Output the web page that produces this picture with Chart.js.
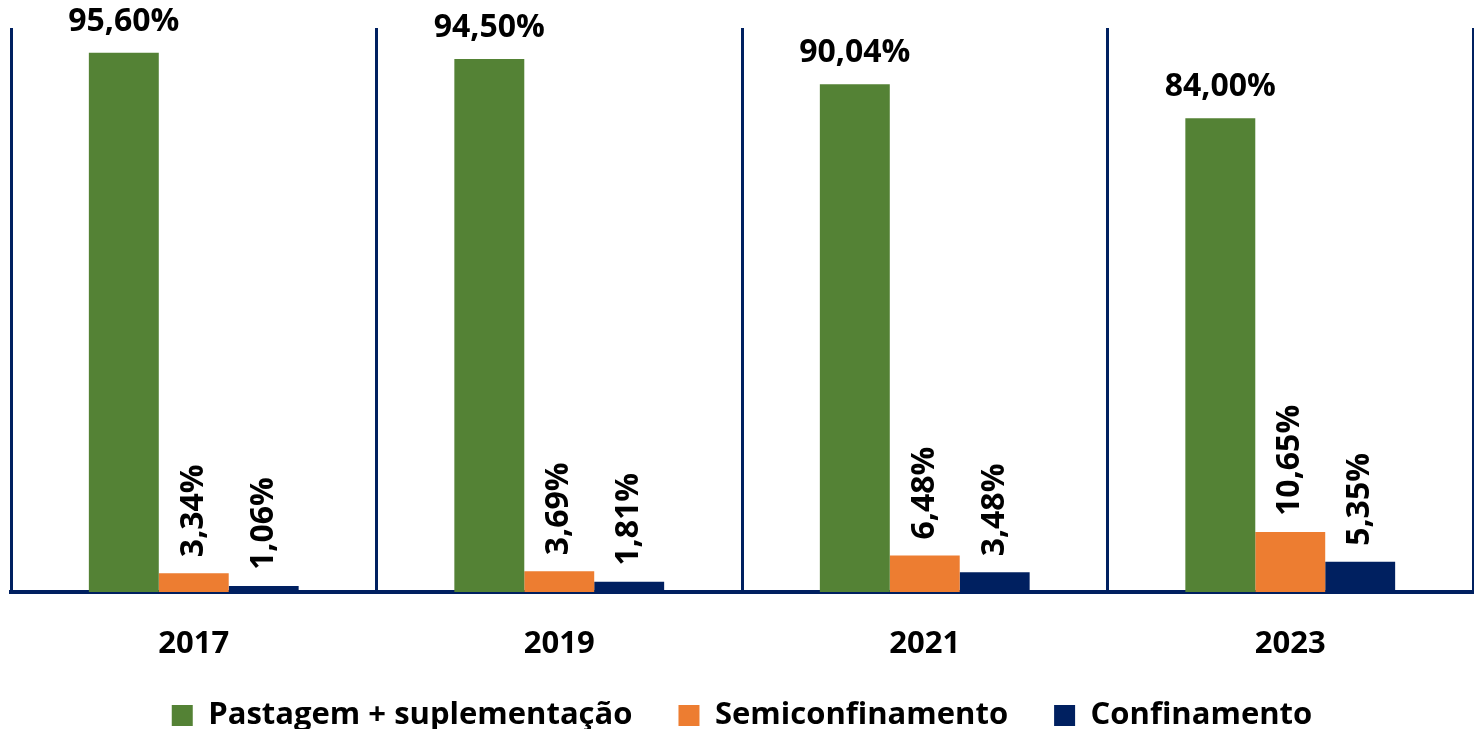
<!DOCTYPE html>
<html>
<head>
<meta charset="utf-8">
<script src="https://cdn.jsdelivr.net/npm/chart.js@4/dist/chart.umd.min.js"></script>
<style>
html,body{margin:0;padding:0;background:#fff;}
#wrap{width:1474px;height:729px;position:relative;}
</style>
</head>
<body>
<div id="wrap"><canvas id="c"></canvas></div>
<script>
const categories = ['2017', '2019', '2021', '2023'];
const seriesNames = ['Pastagem + suplementação', 'Semiconfinamento', 'Confinamento'];
const pastagem = [95.60, 94.50, 90.04, 84.00];
const semiconfinamento = [3.34, 3.69, 6.48, 10.65];
const confinamento = [1.06, 1.81, 3.48, 5.35];
const colors = ['#548235', '#ED7D31', '#002060'];

const NAVY = '#002060';
const FONT = '"Open Sans", "Liberation Sans", sans-serif';

function fmt(v){ return v.toFixed(2).replace('.', ',') + '%'; }

const labelPlugin = {
  id: 'valueLabels',
  afterDatasetsDraw(chart){
    const ctx = chart.ctx;
    chart.data.datasets.forEach((ds, i) => {
      const meta = chart.getDatasetMeta(i);
      meta.data.forEach((bar, j) => {
        const txt = fmt(ds.data[j]);
        ctx.save();
        ctx.font = 'bold 32px ' + FONT;
        ctx.fillStyle = '#000';
        if (i === 0) {
          ctx.textAlign = 'center';
          ctx.textBaseline = 'middle';
          ctx.fillText(txt, bar.x, bar.y - 31);
        } else {
          ctx.translate(bar.x, bar.y - 16);
          ctx.rotate(-Math.PI / 2);
          ctx.textAlign = 'left';
          ctx.textBaseline = 'middle';
          ctx.fillText(txt, 0, 0);
        }
        ctx.restore();
      });
    });
  }
};

const seriesData = [pastagem, semiconfinamento, confinamento];

new Chart(document.getElementById('c'), {
  type: 'bar',
  data: {
    labels: categories,
    datasets: seriesNames.map((n, i) => ({
      label: n,
      data: seriesData[i],
      backgroundColor: colors[i],
      borderWidth: 0,
      barPercentage: 1.0,
      categoryPercentage: 0.574
    }))
  },
  options: {
    responsive: true,
    maintainAspectRatio: false,
    animation: false,
    layout: { padding: { top: 28, left: 11, right: 1, bottom: 0 } },
    scales: {
      x: {
        grid: { display: true, color: NAVY, lineWidth: 3, drawTicks: false, offset: true },
        border: { display: true, color: NAVY, width: 4 },
        ticks: { color: '#000', font: { family: FONT, size: 31, weight: 'bold' }, padding: 34 },
        afterFit(scale){ scale.height = 62; }
      },
      y: {
        display: false,
        min: 0,
        max: 100
      }
    },
    plugins: {
      legend: {
        position: 'bottom',
        maxHeight: 75,
        labels: {
          color: '#000',
          font: { family: FONT, size: 31, weight: 'bold' },
          boxWidth: 21,
          boxHeight: 21,
          padding: 46
        }
      },
      tooltip: { enabled: false }
    }
  },
  plugins: [labelPlugin]
});
</script>
</body>
</html>
